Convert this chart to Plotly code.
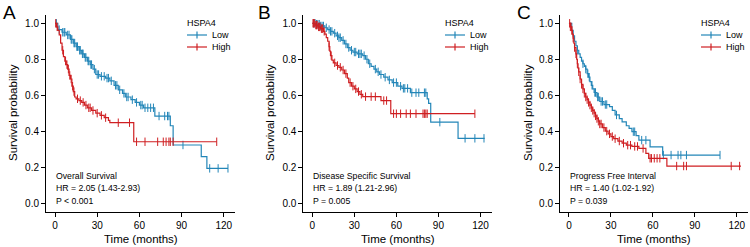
import plotly.graph_objects as go

# ---------------- data ----------------
# Panel A: Overall Survival
a_low_t = [0, 2, 5, 8, 11, 13, 15, 17, 19, 21, 23, 25, 27, 29, 32, 36, 39, 42, 45, 48, 50, 54, 57, 60, 63, 71, 82, 84, 104, 108]
a_low_s = [1.0, 0.965, 0.95, 0.935, 0.91, 0.89, 0.87, 0.85, 0.83, 0.81, 0.79, 0.77, 0.745, 0.715, 0.705, 0.695, 0.68, 0.655, 0.63, 0.61, 0.59, 0.575, 0.56, 0.545, 0.53, 0.484, 0.43, 0.323, 0.258, 0.193]
a_low_end = 123
a_low_cens = [1, 3, 5.5, 6.5, 7, 9, 10, 11.5, 12, 13.5, 14, 15.5, 16, 17.5, 18, 19.5, 20, 21.5, 22, 23.5, 24, 25.5, 26, 28, 30, 31, 33, 35, 37, 38, 40, 43, 44, 46, 49, 51, 52, 55, 58, 61, 62, 64, 66, 68, 70, 74, 78, 80, 81, 91, 110, 116, 123]

a_high_t = [0, 1, 2, 3, 4, 5, 6, 7, 8, 9, 10, 11, 12, 13, 14, 15, 17, 19, 21, 23, 26, 29, 32, 35, 38, 39, 56]
a_high_s = [1.0, 0.98, 0.96, 0.935, 0.89, 0.85, 0.815, 0.79, 0.77, 0.745, 0.71, 0.69, 0.65, 0.62, 0.59, 0.58, 0.57, 0.56, 0.545, 0.53, 0.515, 0.5, 0.488, 0.475, 0.46, 0.447, 0.341]
a_high_end = 115
a_high_cens = [0.5, 1.5, 5.5, 7.5, 8.5, 9.5, 10.5, 11.5, 12.5, 13.5, 16, 18, 20, 22, 24, 25, 27, 30, 33, 36, 45, 53, 58, 64, 73, 77, 79, 81, 82, 84, 115]

# Panel B: Disease Specific Survival
b_low_t = [0, 3, 6, 9, 11, 13, 15, 17, 19, 21, 23, 25, 27, 29, 32, 36, 38, 40, 42, 44, 46, 48, 51, 54, 57, 61, 64, 70, 82, 83, 84.5, 104]
b_low_s = [1.0, 0.995, 0.985, 0.975, 0.965, 0.955, 0.945, 0.93, 0.92, 0.905, 0.885, 0.865, 0.85, 0.84, 0.83, 0.82, 0.8, 0.775, 0.76, 0.745, 0.73, 0.715, 0.70, 0.685, 0.67, 0.65, 0.638, 0.614, 0.58, 0.555, 0.45, 0.36]
b_low_end = 123
b_low_cens = [1, 2, 3, 4, 5, 6, 7, 8, 10, 12, 13, 14, 16, 18, 19, 20, 22, 24, 26, 28, 30, 31, 33, 34, 35, 37, 39, 41, 45, 47, 49, 52, 55, 58, 60, 63, 65, 66, 68, 71, 74, 76, 80, 81, 91, 109, 116, 122.5]

b_high_t = [0, 2, 4, 6, 8, 9, 10, 11, 12, 12.5, 13, 14, 15, 17, 19, 21, 23, 25, 26, 28, 30, 32, 34, 36, 49, 56]
b_high_s = [1.0, 0.99, 0.98, 0.97, 0.955, 0.94, 0.92, 0.9, 0.87, 0.845, 0.82, 0.795, 0.78, 0.765, 0.755, 0.74, 0.72, 0.695, 0.67, 0.65, 0.635, 0.62, 0.605, 0.592, 0.57, 0.497]
b_high_end = 116
b_high_cens = [0.5, 1, 1.5, 2.5, 3, 3.5, 4.5, 5, 5.5, 6.5, 7, 7.5, 8.5, 12, 13.5, 16, 18, 20, 22, 24, 27, 29, 31, 33, 35, 38, 42, 45, 51, 53, 58, 60, 63, 67, 70, 74, 79, 80, 81, 82, 116]

# Panel C: Progress Free Interval
c_low_t = [0, 2, 3, 4, 5, 6, 7, 8, 9, 10, 11, 12, 13, 14, 15, 16, 17, 18, 20, 22, 25, 29, 31, 33, 36, 38, 41, 43, 45, 48, 50, 58, 67]
c_low_s = [1.0, 0.96, 0.93, 0.9, 0.875, 0.85, 0.83, 0.81, 0.79, 0.775, 0.76, 0.745, 0.72, 0.70, 0.675, 0.655, 0.635, 0.615, 0.59, 0.565, 0.548, 0.536, 0.515, 0.49, 0.47, 0.452, 0.43, 0.415, 0.397, 0.375, 0.35, 0.313, 0.267]
c_low_end = 108
c_low_cens = [6, 10, 12, 13.5, 14.5, 16.5, 18.5, 19, 20.5, 21, 23, 24, 26, 27, 34, 46, 47, 52, 55, 67.5, 73, 78, 80, 84, 108]

c_high_t = [0, 1, 2, 2.5, 3, 3.5, 4, 5, 5.5, 6, 6.5, 7, 8, 9, 10, 11, 12, 13, 14, 15, 16, 17, 18, 19, 20, 21, 22, 24, 26, 28, 30, 32, 35, 38, 41, 45, 50, 55, 57, 70]
c_high_s = [1.0, 0.98, 0.96, 0.94, 0.917, 0.89, 0.865, 0.83, 0.80, 0.775, 0.75, 0.73, 0.69, 0.66, 0.635, 0.61, 0.59, 0.575, 0.56, 0.545, 0.53, 0.515, 0.50, 0.485, 0.47, 0.455, 0.44, 0.42, 0.40, 0.385, 0.37, 0.358, 0.345, 0.333, 0.322, 0.315, 0.304, 0.276, 0.249, 0.206]
c_high_end = 123
c_high_cens = [0.5, 1, 1.5, 2, 3, 4, 5, 6, 7, 8, 9, 10, 11, 12, 13, 14, 15, 16, 17, 18, 19, 20, 21, 22, 23, 25, 27, 29, 31, 33, 36, 39, 42, 44, 47, 49, 53, 58, 59, 61, 63, 65, 77, 82, 84, 116, 122]

panel_letters = ["A", "B", "C"]
panel_titles = ["Overall Survival", "Disease Specific Survival", "Progress Free Interval"]
hr_texts = ["HR = 2.05 (1.43-2.93)", "HR = 1.89 (1.21-2.96)", "HR = 1.40 (1.02-1.92)"]
p_texts = ["P < 0.001", "P = 0.005", "P = 0.039"]
group_names = ["Low", "High"]
legend_title = "HSPA4"
x_ticks = [0, 30, 60, 90, 120]
y_ticks = [0.0, 0.2, 0.4, 0.6, 0.8, 1.0]

# ---------------- style ----------------
W, H = 750, 247
FONT = "Liberation Sans, Arial, sans-serif"
BLUE = "#2386B8"
RED = "#CF1F22"
colors = [BLUE, RED]

# pixel layout
x_dom_px = [(46, 235), (303.3, 491.7), (560, 748)]
y_dom_px = (15, 211.7)
letter_x = [9, 264.5, 523.5]
ytitle_x = [13, 270, 528]
legend_x = [185, 443, 699]
legend_rows_y = [35, 47]


def px2x(p):
    return p / W


def px2y(p):
    return 1 - p / H


def step_value(ts, ss, t):
    v = ss[0]
    for ti, si in zip(ts, ss):
        if ti <= t:
            v = si
        else:
            break
    return v


panels = [
    [(a_low_t, a_low_s, a_low_end, a_low_cens), (a_high_t, a_high_s, a_high_end, a_high_cens)],
    [(b_low_t, b_low_s, b_low_end, b_low_cens), (b_high_t, b_high_s, b_high_end, b_high_cens)],
    [(c_low_t, c_low_s, c_low_end, c_low_cens), (c_high_t, c_high_s, c_high_end, c_high_cens)],
]

fig = go.Figure()
annotations = []
shapes = []
layout_axes = {}

for i, panel in enumerate(panels):
    xa = "x" if i == 0 else f"x{i+1}"
    ya = "y" if i == 0 else f"y{i+1}"
    for g, (ts, ss, tend, cens) in enumerate(panel):
        col = colors[g]
        fig.add_trace(go.Scatter(
            x=list(ts) + [tend], y=list(ss) + [ss[-1]],
            mode="lines", line=dict(color=col, width=1.2, shape="hv"),
            xaxis=xa, yaxis=ya, showlegend=False, hoverinfo="skip"))
        fig.add_trace(go.Scatter(
            x=cens, y=[step_value(ts, ss, c) for c in cens],
            mode="markers",
            marker=dict(symbol="line-ns", size=6, color=col, line=dict(color=col, width=1)),
            xaxis=xa, yaxis=ya, showlegend=False, hoverinfo="skip"))

    d0, d1 = x_dom_px[i]
    axis_common = dict(showline=True, linecolor="black", linewidth=1, ticks="outside",
                       ticklen=4, tickwidth=1, tickcolor="black", showgrid=False,
                       zeroline=False, tickfont=dict(family=FONT, size=10, color="black"))
    layout_axes["xaxis" if i == 0 else f"xaxis{i+1}"] = dict(
        domain=[px2x(d0), px2x(d1)], range=[-6.4, 128], tickvals=x_ticks,
        anchor=ya, **axis_common)
    layout_axes["yaxis" if i == 0 else f"yaxis{i+1}"] = dict(
        domain=[px2y(y_dom_px[1]), px2y(y_dom_px[0])], range=[-0.048, 1.046],
        tickvals=y_ticks, ticktext=[f"{v:.1f}" for v in y_ticks],
        anchor=xa, **axis_common)

    # manual legend (ggplot style)
    lx = legend_x[i]
    annotations.append(dict(text=legend_title, x=px2x(lx), y=px2y(23), xref="paper", yref="paper",
                            showarrow=False, xanchor="left", yanchor="middle",
                            font=dict(family=FONT, size=9, color="black")))
    for g in range(2):
        ry = legend_rows_y[g]
        shapes.append(dict(type="line", xref="paper", yref="paper",
                           x0=px2x(lx + 2), x1=px2x(lx + 22), y0=px2y(ry), y1=px2y(ry),
                           line=dict(color=colors[g], width=1.2)))
        shapes.append(dict(type="line", xref="paper", yref="paper",
                           x0=px2x(lx + 12), x1=px2x(lx + 12), y0=px2y(ry - 3.5), y1=px2y(ry + 3.5),
                           line=dict(color=colors[g], width=1.2)))
        annotations.append(dict(text=group_names[g], x=px2x(lx + 25), y=px2y(ry), xref="paper",
                                yref="paper", showarrow=False, xanchor="left", yanchor="middle",
                                font=dict(family=FONT, size=9, color="black")))

    # panel letter
    annotations.append(dict(text=panel_letters[i], x=px2x(letter_x[i]), y=px2y(12),
                            xref="paper", yref="paper", showarrow=False,
                            xanchor="center", yanchor="middle",
                            font=dict(family=FONT, size=19, color="black")))
    # axis titles
    annotations.append(dict(text="Survival probability", x=px2x(ytitle_x[i]), y=px2y(113),
                            xref="paper", yref="paper", showarrow=False, textangle=-90,
                            xanchor="center", yanchor="middle",
                            font=dict(family=FONT, size=11.5, color="black")))
    annotations.append(dict(text="Time (months)", x=px2x((d0 + d1) / 2), y=px2y(239),
                            xref="paper", yref="paper", showarrow=False,
                            xanchor="center", yanchor="middle",
                            font=dict(family=FONT, size=11.5, color="black")))
    # stats text
    for txt, yy in zip([panel_titles[i], hr_texts[i], p_texts[i]], [0.152, 0.082, 0.013]):
        annotations.append(dict(text=txt, x=0, y=yy, xref=xa, yref=ya, showarrow=False,
                                xanchor="left", yanchor="middle", xshift=-1,
                                font=dict(family=FONT, size=8.7, color="black")))

fig.update_layout(width=W, height=H, margin=dict(l=0, r=0, t=0, b=0),
                  paper_bgcolor="white", plot_bgcolor="white", showlegend=False,
                  annotations=annotations, shapes=shapes, **layout_axes)

fig.write_html("out.html", config={"displayModeBar": False, "staticPlot": True},
               post_script="document.body.style.margin='0px';document.body.style.overflow='hidden';")
